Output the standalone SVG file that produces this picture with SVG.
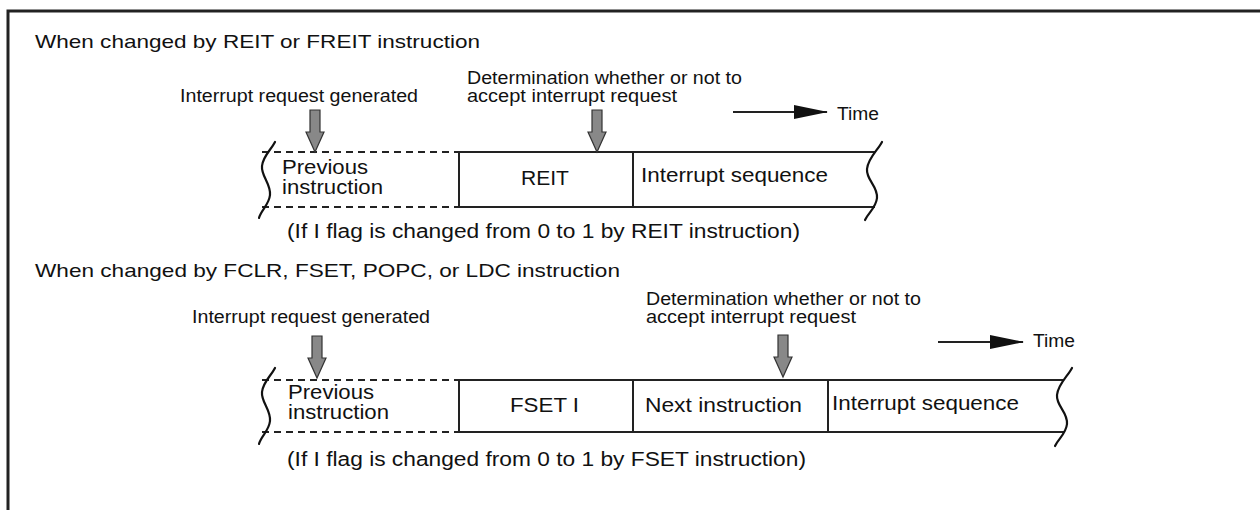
<svg xmlns="http://www.w3.org/2000/svg" width="1260" height="510" viewBox="0 0 1260 510">
<style>
text{font-family:"Liberation Sans",Arial,sans-serif;fill:#111}
.t{font-size:17.5px}
.h{font-size:19px}
.b{font-size:19.5px}
.ln{stroke:#222;stroke-width:2;fill:none}
.dash{stroke:#222;stroke-width:2;stroke-dasharray:7,5;fill:none}
.wave{stroke:#111;stroke-width:2.2;fill:none;stroke-linecap:round}
.garrow{fill:#888;stroke:#333;stroke-width:1.2}
</style>
<defs>
<marker id="tri" markerWidth="34" markerHeight="14" refX="33" refY="7" orient="auto" markerUnits="userSpaceOnUse">
<path d="M0,0 L34,7 L0,14 Z" fill="#111"/>
</marker>
<path id="lw" d="M275,142 C271,150 263,156 262,166 C261,176 271,184 270,195 C269,205 261,210 259,218"/>
<path id="rw" d="M882,142 C878,150 868,158 867,169 C866,180 878,186 877,198 C876,208 868,213 865,220"/>
<path id="ga" d="M-5,0 H5 V22 H9 L0,42 L-9,22 H-5 Z"/>
</defs>
<g id="frame"><path d="M8,510 V11 H1260" fill="none" stroke="#222" stroke-width="3"/></g>

<g id="section1">
<text class="h" x="35" y="48" textLength="445" lengthAdjust="spacingAndGlyphs">When changed by REIT or FREIT instruction</text>
<text class="t" x="180" y="102" textLength="238" lengthAdjust="spacingAndGlyphs">Interrupt request generated</text>
<text class="t" x="467" y="84" textLength="275" lengthAdjust="spacingAndGlyphs">Determination whether or not to</text>
<text class="t" x="467" y="102" textLength="210" lengthAdjust="spacingAndGlyphs">accept interrupt request</text>
<g id="time1"><line class="ln" x1="733" y1="112" x2="827" y2="112" marker-end="url(#tri)"/><text class="t" x="837" y="120" textLength="42" lengthAdjust="spacingAndGlyphs">Time</text></g>
<g id="prev1">
<line class="dash" x1="262" y1="152" x2="458" y2="152"/>
<line class="dash" x1="262" y1="207" x2="458" y2="207"/>
<use href="#lw" class="wave"/>
<text class="b" x="282" y="174" textLength="86" lengthAdjust="spacingAndGlyphs">Previous</text>
<text class="b" x="282" y="194" textLength="101" lengthAdjust="spacingAndGlyphs">instruction</text>
</g>
<g id="reit"><rect x="459" y="152" width="174" height="55" class="ln"/><text class="b" x="521" y="185" textLength="48" lengthAdjust="spacingAndGlyphs">REIT</text></g>
<g id="intseq1">
<line class="ln" x1="633" y1="152" x2="875" y2="152"/>
<line class="ln" x1="633" y1="207" x2="875" y2="207"/>
<use href="#rw" class="wave"/>
<text class="b" x="641" y="182" textLength="187" lengthAdjust="spacingAndGlyphs">Interrupt sequence</text>
</g>
<text class="b" x="287" y="238" textLength="513" lengthAdjust="spacingAndGlyphs">(If I flag is changed from 0 to 1 by REIT instruction)</text>
</g>

<g id="section2">
<text class="h" x="35" y="277" textLength="585" lengthAdjust="spacingAndGlyphs">When changed by FCLR, FSET, POPC, or LDC instruction</text>
<text class="t" x="192" y="323" textLength="238" lengthAdjust="spacingAndGlyphs">Interrupt request generated</text>
<text class="t" x="646" y="305" textLength="275" lengthAdjust="spacingAndGlyphs">Determination whether or not to</text>
<text class="t" x="646" y="323" textLength="210" lengthAdjust="spacingAndGlyphs">accept interrupt request</text>
<g id="time2"><line class="ln" x1="938" y1="342" x2="1023" y2="342" marker-end="url(#tri)"/><text class="t" x="1033" y="347" textLength="42" lengthAdjust="spacingAndGlyphs">Time</text></g>
<g id="prev2">
<line class="dash" x1="262" y1="380" x2="458" y2="380"/>
<line class="dash" x1="262" y1="432" x2="458" y2="432"/>
<use href="#lw" class="wave" transform="translate(0,226)"/>
<text class="b" x="288" y="399" textLength="86" lengthAdjust="spacingAndGlyphs">Previous</text>
<text class="b" x="288" y="419" textLength="101" lengthAdjust="spacingAndGlyphs">instruction</text>
</g>
<g id="fset"><rect x="459" y="380" width="174" height="52" class="ln"/><text class="b" x="510" y="412" textLength="69" lengthAdjust="spacingAndGlyphs">FSET I</text></g>
<g id="next"><rect x="633" y="380" width="195" height="52" class="ln"/><text class="b" x="645" y="412" textLength="157" lengthAdjust="spacingAndGlyphs">Next instruction</text></g>
<g id="intseq2">
<line class="ln" x1="828" y1="380" x2="1064" y2="380"/>
<line class="ln" x1="828" y1="432" x2="1064" y2="432"/>
<use href="#rw" class="wave" transform="translate(190,226)"/>
<text class="b" x="832" y="410" textLength="187" lengthAdjust="spacingAndGlyphs">Interrupt sequence</text>
</g>
<text class="b" x="287" y="466" textLength="519" lengthAdjust="spacingAndGlyphs">(If I flag is changed from 0 to 1 by FSET instruction)</text>
</g>

<g id="connectors">
<use href="#ga" class="garrow" transform="translate(315,110)"/>
<use href="#ga" class="garrow" transform="translate(597,110)"/>
<use href="#ga" class="garrow" transform="translate(317,336)"/>
<use href="#ga" class="garrow" transform="translate(783,335)"/>
</g>
</svg>
